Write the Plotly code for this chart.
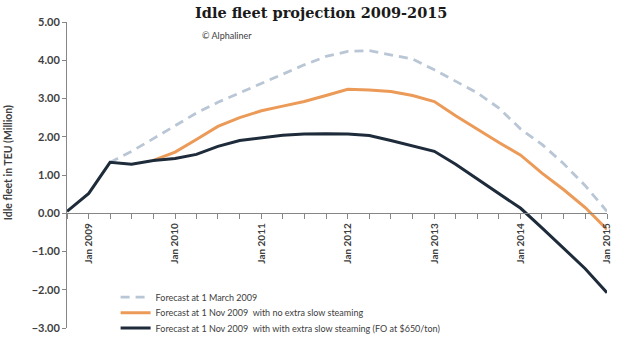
import plotly.graph_objects as go

# Quarterly time points (Oct 2008 - Jan 2015)
quarters = [
    "2008-10-01", "2009-01-01", "2009-04-01", "2009-07-01", "2009-10-01",
    "2010-01-01", "2010-04-01", "2010-07-01", "2010-10-01",
    "2011-01-01", "2011-04-01", "2011-07-01", "2011-10-01",
    "2012-01-01", "2012-04-01", "2012-07-01", "2012-10-01",
    "2013-01-01", "2013-04-01", "2013-07-01", "2013-10-01",
    "2014-01-01", "2014-04-01", "2014-07-01", "2014-10-01",
    "2015-01-01",
]

# Forecast at 1 March 2009 (starts Apr 2009)
march_dates = quarters[2:]
march_values = [1.33, 1.62, 1.95, 2.30, 2.62, 2.90, 3.15, 3.40, 3.65, 3.88, 4.10,
                4.23, 4.25, 4.15, 4.03, 3.75, 3.45, 3.15, 2.75, 2.20, 1.80, 1.30,
                0.72, 0.05]

# Forecast at 1 Nov 2009, no extra slow steaming (starts Oct 2009)
nov_dates = quarters[4:]
nov_no_slow = [1.38, 1.60, 1.93, 2.27, 2.50, 2.68, 2.80, 2.92, 3.08, 3.24, 3.22,
               3.18, 3.08, 2.92, 2.55, 2.20, 1.85, 1.52, 1.05, 0.62, 0.15, -0.42]

# Actual + forecast at 1 Nov 2009 with extra slow steaming
slow_values = [0.05, 0.52, 1.33, 1.28, 1.38, 1.43, 1.54, 1.75, 1.90, 1.98, 2.04,
               2.07, 2.08, 2.07, 2.03, 1.90, 1.76, 1.62, 1.28, 0.90, 0.50, 0.13,
               -0.38, -0.90, -1.45, -2.08]

series_names = [
    "Forecast at 1 March 2009",
    "Forecast at 1 Nov 2009  with no extra slow steaming",
    "Forecast at 1 Nov 2009  with with extra slow steaming (FO at $650/ton)",
]

y_ticks = [5, 4, 3, 2, 1, 0, -1, -2, -3]

TEXT = "#404040"
AXIS = "#868686"
FONT = "Lato, 'Open Sans', sans-serif"

fig = go.Figure()
fig.add_trace(go.Scatter(
    x=march_dates, y=march_values, mode="lines", name=series_names[0],
    line=dict(color="#b9c6d5", width=2.8, dash="9px,6px"),
    legend="legend", showlegend=True,
))
fig.add_trace(go.Scatter(
    x=nov_dates, y=nov_no_slow, mode="lines", name=series_names[1],
    line=dict(color="#ec9a58", width=3), legend="legend2", showlegend=True,
))
fig.add_trace(go.Scatter(
    x=quarters, y=slow_values, mode="lines", name=series_names[2],
    line=dict(color="#1e2b3a", width=3), legend="legend3", showlegend=True,
))


def legend_row(y):
    # one legend box per series so the rows sit close together
    return dict(
        x=0.09, y=y, xanchor="left", yanchor="middle",
        bgcolor="rgba(0,0,0,0)", font=dict(size=9, color=TEXT),
    )


fig.update_layout(
    width=625, height=348,
    showlegend=True,
    margin=dict(l=67, r=18, t=22, b=20, autoexpand=False),
    paper_bgcolor="white", plot_bgcolor="white",
    font=dict(family=FONT, color=TEXT),
    title=dict(
        text="<b>Idle fleet projection 2009-2015</b>",
        font=dict(family="'DejaVu Serif', serif", size=14.5, color="#1a1a1a"),
        x=0.514, xanchor="center", y=0.962, yanchor="middle",
    ),
    xaxis=dict(
        type="date", range=["2008-10-01", "2015-01-01"],
        anchor="free", position=0.375, automargin=False,
        showline=True, linecolor=AXIS, linewidth=1,
        ticks="outside", ticklen=5, tickcolor=AXIS,
        tick0="2009-01-01", dtick="M12", tickformat="%b %Y",
        tickangle=-90,
        tickfont=dict(size=10, color=TEXT, weight="bold"),
        minor=dict(dtick="M3", tick0="2008-10-01", ticks="outside",
                   ticklen=5, tickcolor=AXIS),
        showgrid=False, zeroline=False,
    ),
    yaxis=dict(
        range=[-3, 5], tickvals=y_ticks, tickformat=".2f", automargin=False,
        showline=True, linecolor=AXIS, linewidth=1,
        ticks="outside", ticklen=4, tickcolor=AXIS,
        tickfont=dict(size=11, color=TEXT, weight="bold"),
        showgrid=False, zeroline=False,
    ),
    legend=legend_row(0.101),
    legend2=legend_row(0.050),
    legend3=legend_row(0.0),
    annotations=[
        dict(text="© Alphaliner", xref="paper", yref="paper",
             x=0.246, y=0.957, xanchor="left", yanchor="middle",
             showarrow=False, font=dict(size=9, color=TEXT)),
        dict(text="<b>Idle fleet in TEU (Million)</b>", xref="paper", yref="paper",
             x=-0.109, y=0.539, xanchor="center", yanchor="middle",
             textangle=-90, showarrow=False,
             font=dict(size=10.5, color=TEXT)),
    ],
)

fig.write_html("out.html")
